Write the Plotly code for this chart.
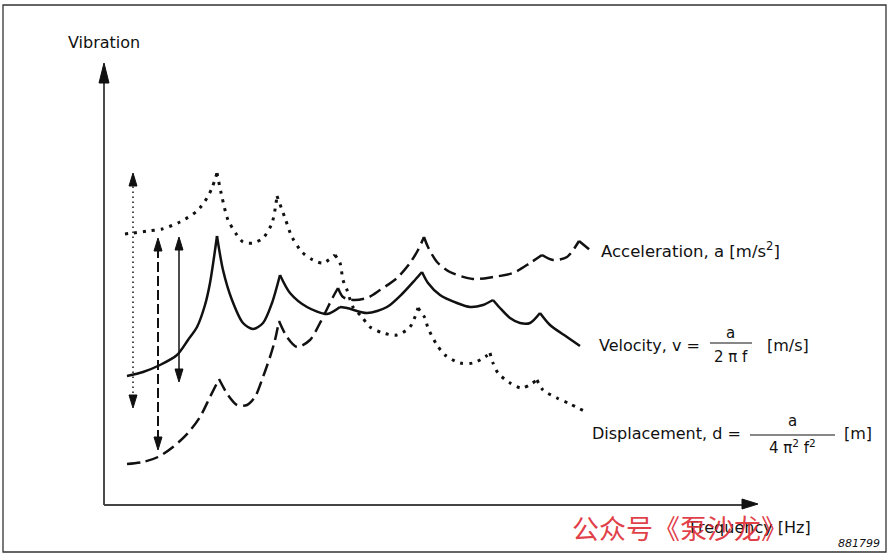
import plotly.graph_objects as go

# Chart units: frequency and vibration amplitude (arbitrary)
disp_f = [21, 29, 44, 58, 76, 93, 103, 108, 113, 118, 124, 133, 139, 149, 159, 168, 173,
          181, 188, 198, 209, 219, 231, 236, 239, 243, 249, 258, 266, 279, 293, 306, 314,
          321, 324, 333, 341, 356, 369, 381, 386, 389, 394, 406, 418, 433, 439, 453, 466, 482]
disp_v = [271, 272, 274, 276, 283, 294, 307, 317, 332, 308, 285, 270, 263, 262, 267, 282, 309,
          287, 268, 253, 245, 242, 250, 242, 225, 215, 198, 188, 178, 172, 170, 178, 197,
          187, 177, 160, 150, 142, 142, 148, 152, 142, 132, 122, 117, 125, 115, 107, 101, 93]

vel_f = [23, 39, 56, 73, 84, 93, 101, 106, 113, 119, 128, 139, 149, 159, 168, 176, 186, 203,
         223, 236, 243, 263, 283, 299, 311, 318, 324, 336, 353, 366, 379, 389, 396, 406, 416,
         426, 436, 446, 463, 476]
vel_v = [129, 133, 140, 150, 165, 178, 200, 222, 269, 235, 205, 182, 176, 182, 202, 230, 212, 198,
         191, 198, 197, 192, 198, 212, 225, 233, 222, 210, 202, 198, 200, 205, 197, 187, 182,
         182, 192, 180, 168, 159]

acc_f = [23, 39, 54, 69, 84, 96, 106, 115, 124, 133, 143, 151, 159, 166, 171, 175, 183, 193,
         206, 216, 224, 229, 234, 239, 249, 263, 276, 293, 306, 314, 320, 324, 333, 346, 369,
         389, 409, 426, 438, 449, 463, 475, 486]
acc_v = [41, 43, 48, 58, 72, 88, 108, 126, 110, 100, 100, 108, 128, 148, 165, 184, 168, 158,
         165, 182, 198, 208, 217, 208, 205, 207, 215, 227, 242, 255, 268, 258, 243, 233, 226,
         228, 232, 242, 250, 245, 248, 264, 255]

# double-headed range arrows: (frequency, low, high)
arrow_disp = (29, 97, 332)
arrow_acc = (54, 55, 267)
arrow_vel = (75, 123, 268)

INK = "#111111"
FONT = "DejaVu Sans"


def split_at_peaks(xs, ys):
    """break a curve into smooth pieces at its resonance peaks (sharp cusps)"""
    ox, oy = [xs[0]], [ys[0]]
    for i in range(1, len(xs)):
        ox.append(xs[i]); oy.append(ys[i])
        if 0 < i < len(xs) - 1 and ys[i] > ys[i - 1] and ys[i] > ys[i + 1]:
            ox += [None, xs[i]]; oy += [None, ys[i]]
    return ox, oy


fig = go.Figure()

for xs, ys, ln in [
    (disp_f, disp_v, dict(color=INK, width=3, dash="3px,6px")),
    (vel_f, vel_v, dict(color=INK, width=2.5)),
    (acc_f, acc_v, dict(color=INK, width=2.5, dash="13px,6px")),
]:
    sx, sy = split_at_peaks(xs, ys)
    fig.add_trace(go.Scatter(x=sx, y=sy, mode="lines", connectgaps=False, hoverinfo="skip",
                             line=dict(shape="spline", smoothing=0.8, **ln)))

# arrow shafts
fig.add_trace(go.Scatter(x=[arrow_disp[0]] * 2, y=[arrow_disp[1] + 10, arrow_disp[2] - 10],
                         mode="lines", hoverinfo="skip",
                         line=dict(color=INK, width=1.5, dash="1.5px,3.5px")))
fig.add_trace(go.Scatter(x=[arrow_acc[0]] * 2, y=[arrow_acc[1] + 10, arrow_acc[2] - 10],
                         mode="lines", hoverinfo="skip",
                         line=dict(color=INK, width=2, dash="10px,4px")))
fig.add_trace(go.Scatter(x=[arrow_vel[0]] * 2, y=[arrow_vel[1] + 10, arrow_vel[2] - 10],
                         mode="lines", hoverinfo="skip",
                         line=dict(color=INK, width=1.5)))

shapes = []


def head(x, y, direction, length=13, half=4):
    """triangular arrowhead with tip at (x, y)"""
    if direction == "up":
        p = f"M{x},{y} L{x-half},{y-length} L{x+half},{y-length} Z"
    elif direction == "down":
        p = f"M{x},{y} L{x-half},{y+length} L{x+half},{y+length} Z"
    else:
        p = f"M{x},{y} L{x-length},{y-half} L{x-length},{y+half} Z"
    shapes.append(dict(type="path", path=p, xref="x", yref="y",
                       fillcolor=INK, line=dict(color=INK, width=1)))


for a in (arrow_disp, arrow_acc, arrow_vel):
    head(a[0], a[2], "up")
    head(a[0], a[1], "down")

# axes
shapes.append(dict(type="line", x0=0, y0=0, x1=0, y1=430, xref="x", yref="y",
                   line=dict(color=INK, width=1.5)))
shapes.append(dict(type="line", x0=0, y0=0, x1=640, y1=0, xref="x", yref="y",
                   line=dict(color="#444", width=1.8)))
head(0, 442, "up", length=20, half=5)
head(654, 1, "right", length=16, half=5)

# border
shapes.append(dict(type="rect", x0=-101, y0=-47, x1=782, y1=500, xref="x", yref="y",
                   line=dict(color="#333", width=1.3)))

# fraction bars
shapes.append(dict(type="line", x0=606, x1=648, y0=162, y1=162, xref="x", yref="y",
                   line=dict(color=INK, width=1)))
shapes.append(dict(type="line", x0=646, x1=731, y0=70, y1=70, xref="x", yref="y",
                   line=dict(color=INK, width=1)))

ann = []


def txt(x, y, s, size=16, anchor="left", color=INK, family=FONT):
    ann.append(dict(x=x, y=y, xref="x", yref="y", text=s, showarrow=False,
                    xanchor=anchor, yanchor="middle",
                    font=dict(family=family, size=size, color=color)))


txt(-38, 463, "Vibration", size=16)
txt(495, 255, "Acceleration, a [m/s<sup>2</sup>]", size=16.5)
txt(493, 160, "Velocity, v =")
txt(626, 172, "a", size=15, anchor="center")
txt(627, 148, "2 π f", size=15, anchor="center")
txt(661, 160, "[m/s]")
txt(486, 72, "Displacement, d =")
txt(688, 84, "a", size=15, anchor="center")
txt(688, 58, "4 π<sup>2</sup> f<sup>2</sup>", size=15, anchor="center")
txt(738, 72, "[m]")
txt(584, -22, "Frequency [Hz]")
txt(466, -22, "公众号《泵沙龙》", size=27, color="rgba(222,45,55,0.92)",
    family="Noto Sans CJK SC")
txt(778, -38, "<i>881799</i>", size=11, anchor="right")

fig.update_layout(
    width=890, height=558, autosize=False,
    margin=dict(l=0, r=0, t=0, b=0),
    paper_bgcolor="white", plot_bgcolor="white",
    showlegend=False, hovermode=False,
    shapes=shapes, annotations=ann,
    xaxis=dict(range=[-104, 786], visible=False, fixedrange=True),
    yaxis=dict(range=[-53, 505], visible=False, fixedrange=True),
)

fig.write_html("out.html", config={"displayModeBar": False},
               post_script="document.body.style.margin='0';")
